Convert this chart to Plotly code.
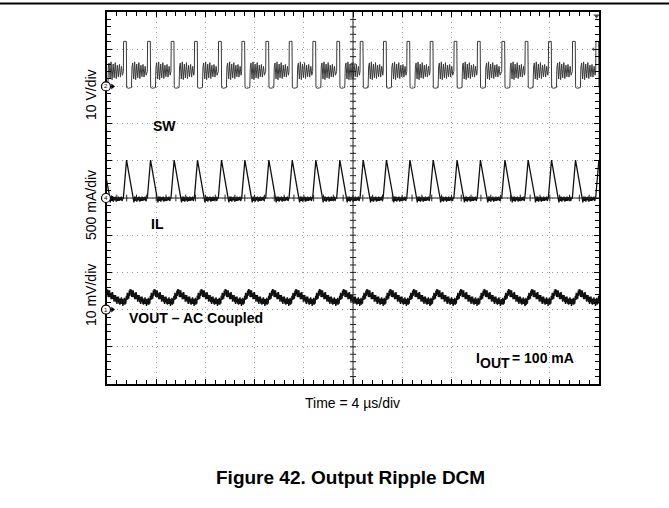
import plotly.graph_objects as go

# scope settings: 10 div x 10 div, 4 us/div
t_div = 4.0
sw_scale, il_scale, vo_scale = 10.0, 0.5, 10.0      # V/div, A/div, mV/div
sw_gnd, il_gnd, vo_gnd = 3.0, 0.0, -3.0              # ground markers (div)

# switching instants (us)
pulse_t = [-0.59, 1.33, 3.28, 5.20, 7.10, 9.05, 10.95, 12.90, 14.80, 16.72, 18.67,
           20.57, 22.46, 24.37, 26.26, 28.20, 30.10, 32.09, 33.98, 35.88, 37.83,
           39.73, 41.65]

# SW node, one cycle (us after turn-on, volts)
sw_dt = [0.00, 0.02, 0.24, 0.27, 0.40, 0.55, 0.66, 0.70, 0.76, 0.84, 0.92, 1.00,
         1.09, 1.17, 1.26, 1.34, 1.43, 1.51, 1.60, 1.68, 1.77, 1.85]
sw_v = [4.0, 12.1, 12.1, -0.3, -0.5, -0.4, -0.3, 5.2, 6.3, 2.0, 6.6, 1.8,
        6.0, 2.3, 6.4, 2.1, 5.7, 2.6, 5.9, 2.5, 5.4, 3.0]

# inductor current, one cycle (us, amps)
il_dt = [0.00, 0.26, 0.82, 0.86, 0.92, 0.98, 1.04, 1.10, 1.16, 1.22, 1.28, 1.34,
         1.40, 1.46, 1.52, 1.58, 1.64, 1.70, 1.76, 1.82, 1.88]
il_a = [0.0, 0.51, 0.0, -0.06, 0.02, -0.04, 0.02, -0.05, 0.01, -0.03, 0.02, -0.05,
        0.01, -0.04, 0.02, -0.04, 0.01, -0.03, 0.02, -0.04, 0.0]

# output ripple (AC coupled), one cycle (us, mV)
vo_dt = [0.00, 0.04, 0.08, 0.12, 0.16, 0.20, 0.24, 0.28, 0.32, 0.36, 0.40, 0.44,
         0.48, 0.52, 0.56, 0.60, 0.64, 0.68, 0.72, 0.76, 0.80, 0.84, 0.88, 0.92,
         0.96, 1.00, 1.04, 1.08, 1.12, 1.16, 1.20, 1.24, 1.28, 1.32, 1.36, 1.40,
         1.44, 1.48, 1.52, 1.56, 1.60, 1.64, 1.68, 1.72, 1.76, 1.80, 1.84, 1.88]
vo_mv = [2.8, 1.4, 3.2, 1.3, 2.9, 1.6, 3.7, 2.6, 4.5, 2.7, 4.4, 2.9,
         5.1, 3.7, 5.5, 4.1, 5.4, 3.4, 5.2, 3.3, 5.2, 3.4, 4.4, 2.8,
         4.6, 2.8, 4.7, 2.9, 4.0, 2.1, 3.9, 2.4, 3.9, 2.0, 3.4, 1.5,
         3.5, 2.0, 3.5, 1.6, 3.0, 1.3, 3.0, 1.5, 3.3, 1.5, 2.9, 1.0]


def build(dts, vals, scale, offset):
    xs, ys = [], []
    for i, t0 in enumerate(pulse_t[:-1]):
        for d, v in zip(dts, vals):
            if t0 + d < pulse_t[i + 1]:
                xs.append(t0 + d)
                ys.append(v / scale + offset)
    return xs, ys


W, H = 669, 508
L, R, T, B = 107, 599, 12, 384   # screen in pixels


def px(x, y):
    return x / W, 1 - y / H


fig = go.Figure()
for dts, vals, sc, off, w, col in [
    (sw_dt, sw_v, sw_scale, sw_gnd, 1.0, '#3a3a3a'),
    (il_dt, il_a, il_scale, il_gnd, 1.3, '#111111'),
    (vo_dt, vo_mv, vo_scale, vo_gnd, 1.4, '#111111'),
]:
    x, y = build(dts, vals, sc, off)
    fig.add_trace(go.Scatter(x=x, y=y, mode='lines', line=dict(color=col, width=w),
                             hoverinfo='skip', showlegend=False))

# centre cross with its small ticks
shapes = [
    dict(type='line', xref='x', yref='y', x0=0, x1=40, y0=0, y1=0, line=dict(color='#222', width=1)),
    dict(type='line', xref='x', yref='y', x0=20, x1=20, y0=-5, y1=5, line=dict(color='#222', width=1)),
    dict(type='line', xref='paper', yref='paper', x0=0, x1=1, y0=1 - 3.5 / H, y1=1 - 3.5 / H,
         line=dict(color='black', width=2)),
]
for k in range(1, 50):
    xx = k * 0.8
    shapes.append(dict(type='line', xref='x', yref='y', x0=xx, x1=xx, y0=-0.09, y1=0.09,
                       line=dict(color='#222', width=1)))
for k in range(-24, 25):
    yy = k * 0.2
    shapes.append(dict(type='line', xref='x', yref='y', x0=19.75, x1=20.25, y0=yy, y1=yy,
                       line=dict(color='#222', width=1)))

ann = []
# channel ground markers (circle with channel number on the left edge)
for ch, lvl in [('2', sw_gnd), ('4', il_gnd), ('1', vo_gnd)]:
    cx, cy = px(L - 1, (T + B) / 2 - lvl * (B - T) / 10)
    shapes.append(dict(type='circle', xref='paper', yref='paper', xsizemode='pixel',
                       ysizemode='pixel', xanchor=cx, yanchor=cy, x0=-4.5, x1=4.5,
                       y0=-4.5, y1=4.5, fillcolor='white', line=dict(color='black', width=1.2)))
    ann.append(dict(text=ch, x=cx, y=cy, xref='paper', yref='paper', showarrow=False,
                    xanchor='center', yanchor='middle',
                    font=dict(size=6, color='black', family='Liberation Sans, Arial')))
fig.add_trace(go.Scatter(x=[0.45] * 3, y=[sw_gnd, il_gnd, vo_gnd], mode='markers',
                         marker=dict(symbol='triangle-right', size=5, color='black'),
                         cliponaxis=False, hoverinfo='skip', showlegend=False))
# trigger position / level
fig.add_trace(go.Scatter(x=[39.8, 39.55], y=[4.9, 4.0], mode='markers',
                         marker=dict(symbol=['triangle-down', 'triangle-left'], size=[7, 5],
                                     color='black'),
                         cliponaxis=False, hoverinfo='skip', showlegend=False))

font = 'Liberation Sans, Arial, sans-serif'
for text, x, y, size, angle, anchor in [
    ('10 V/div', 91, 95, 14, -90, 'center'),
    ('500 mA/div', 91, 205, 14, -90, 'center'),
    ('10 mV/div', 91, 295, 14, -90, 'center'),
    ('<b>SW</b>', 164, 126, 14, 0, 'center'),
    ('<b>IL</b>', 157, 224, 14, 0, 'center'),
    ('<b>VOUT – AC Coupled</b>', 196, 318, 14, 0, 'center'),
    ('<b>I</b>', 478, 358, 14, 0, 'center'),
    ('<b>OUT</b>', 478.5, 363, 14, 0, 'left'),
    ('<b>= 100 mA</b>', 510, 358, 14, 0, 'left'),
    ('Time = 4 \u00b5s/div', 352, 403, 14, 0, 'center'),
    ('<b>Figure 42. Output Ripple DCM</b>', 350, 477, 19, 0, 'center'),
]:
    ax, ay = px(x, y)
    ann.append(dict(text=text, x=ax, y=ay, xref='paper', yref='paper', showarrow=False,
                    xanchor=anchor, yanchor='middle', textangle=angle,
                    font=dict(size=size, color='black', family=font)))

axis_common = dict(showline=True, linecolor='black', linewidth=2, mirror='ticks',
                   ticks='inside', ticklen=5, tickcolor='black', showticklabels=False,
                   showgrid=True, gridcolor='#999999', griddash='1px,4px', gridwidth=1,
                   zeroline=False, fixedrange=True)

fig.update_layout(
    width=W, height=H, margin=dict(l=0, r=0, t=0, b=0),
    paper_bgcolor='white', plot_bgcolor='white',
    xaxis=dict(range=[0, 10 * t_div], dtick=t_div, domain=[L / W, R / W],
               minor=dict(dtick=t_div / 5, ticks='inside', ticklen=4, tickcolor='black',
                          showgrid=False), **axis_common),
    yaxis=dict(range=[-5, 5], dtick=1, domain=[1 - B / H, 1 - T / H],
               minor=dict(dtick=0.2, ticks='inside', ticklen=4, tickcolor='black',
                          showgrid=False), **axis_common),
    shapes=shapes, annotations=ann, showlegend=False,
)

# the page body has a default 8px margin; drop it so the figure sits at 0,0
fig.write_html("out.html", config={'displayModeBar': False},
               post_script="document.body.style.margin='0';")
